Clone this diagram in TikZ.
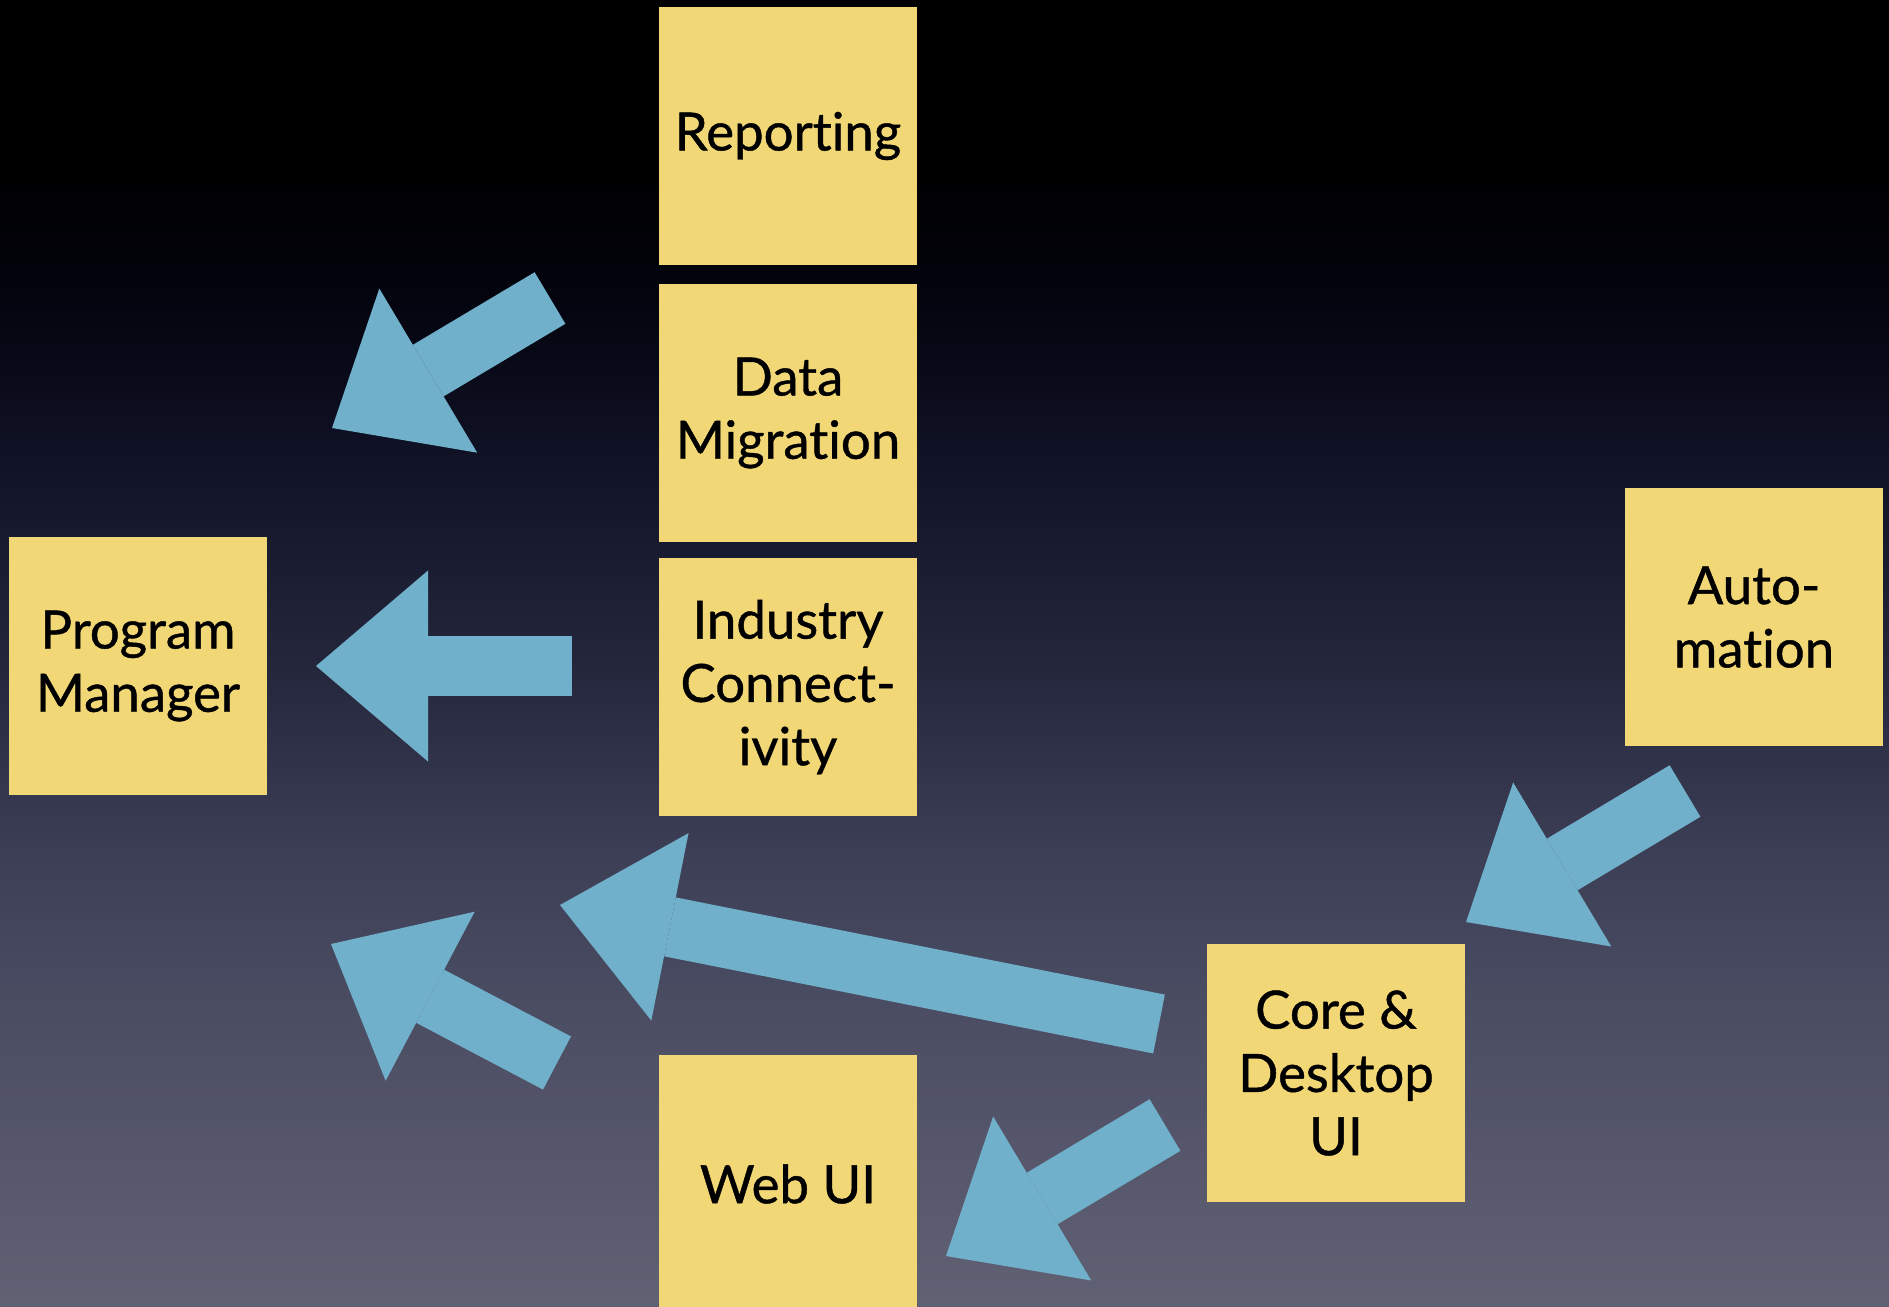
\documentclass[tikz,border=0pt]{standalone}
\usepackage{fontspec}
\setmainfont{Lato}[Ligatures=NoCommon, FakeBold=0.8]
\usetikzlibrary{arrows.meta}
\definecolor{notefill}{RGB}{242,215,118}
\definecolor{arrowblue}{RGB}{112,176,202}
\definecolor{bgA}{RGB}{3,4,14}
\definecolor{bgB}{RGB}{17,19,40}
\definecolor{bgC}{RGB}{36,38,60}
\definecolor{bgD}{RGB}{60,62,86}
\definecolor{bgE}{RGB}{74,76,98}
\definecolor{bgF}{RGB}{97,97,116}
% background: stops between 25bp (bottom) and 75bp (top)
\pgfdeclareverticalshading{slidebg}{100bp}{color(0bp)=(bgF); color(25bp)=(bgF);
  color(36.7bp)=(bgE); color(42.5bp)=(bgD); color(49.5bp)=(bgC);
  color(57bp)=(bgB); color(63.5bp)=(bgA); color(68.5bp)=(black); color(100bp)=(black)}
\tikzset{
  note/.style={fill=notefill, minimum width=2.57cm, minimum height=2.57cm,
    inner sep=0pt, align=center, font=\fontsize{15}{18}\selectfont},
  push/.style={draw=arrowblue, line width=0.6cm,
    -{Triangle[length=1.12cm, width=1.91cm, line width=0pt]}}
}
\begin{document}
\begin{tikzpicture}[x=0.01cm, y=-0.01cm]
\useasboundingbox (0,0) rectangle (1889,1306);
\clip (0,0) rectangle (1889,1306);
\shade[shading=slidebg] (0,0) rectangle (1889,1306);
% sticky notes
\node[note] (report) at (788,136) {Reporting};
\node[note] (migrate) at (788,413) {Data\\Migration};
\node[note] (industry) at (788,687) {Industry\\Connect-\\ivity};
\node[note] (progman) at (138,666) {Program\\Manager};
\node[note] (auto) at (1754,617) {Auto-\\mation};
\node[note] (core) at (1336,1073) {Core \&\\Desktop\\UI};
\node[note] (webui) at (788,1184) {Web UI};
% arrow ends
\coordinate (migtail) at (550,298);
\coordinate (migtip) at (332,428);
\coordinate (indtail) at (572,666);
\coordinate (indtip) at (316,666);
\coordinate (webtail) at (557,1063);
\coordinate (webtip) at (331,944);
\coordinate (coretail) at (1159,1024);
\coordinate (coretip) at (560,905);
\coordinate (autotail) at (1685,791);
\coordinate (autotip) at (1466,922);
\coordinate (desktail) at (1165,1125);
\coordinate (desktip) at (946,1256);
% arrows
\draw[push] (migtail) -- (migtip);
\draw[push] (indtail) -- (indtip);
\draw[push] (webtail) -- (webtip);
\draw[push] (coretail) -- (coretip);
\draw[push] (autotail) -- (autotip);
\draw[push] (desktail) -- (desktip);
\end{tikzpicture}
\end{document}
